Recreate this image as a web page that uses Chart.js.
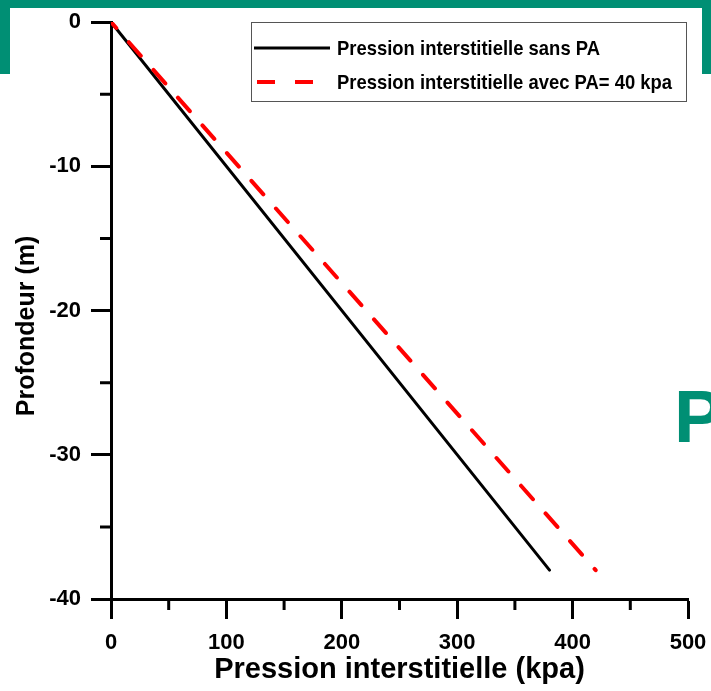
<!DOCTYPE html>
<html>
<head>
<meta charset="utf-8">
<script src="https://cdn.jsdelivr.net/npm/chart.js@4"></script>
<style>
  html, body { margin: 0; padding: 0; background: #fff; }
  #wrap { width: 711px; height: 691px; position: relative; }
</style>
</head>
<body>
<div id="wrap"><canvas id="c" width="711" height="691"></canvas></div>
<script>
// ---- data ----
const seriesNames = ["Pression interstitielle sans PA", "Pression interstitielle avec PA= 40 kpa"];
const depthSans = [0, -38];
const pressureSans = [0, 380];
const depthAvec = [0, -38];
const pressureAvec = [0, 420];
const xMajorTicks = [0, 100, 200, 300, 400, 500];
const xMinorTicks = [50, 150, 250, 350, 450];
const yMajorTicks = [0, -10, -20, -30, -40];
const yMinorTicks = [-5, -15, -25, -35];
const xTitle = "Pression interstitielle (kpa)";
const yTitle = "Profondeur (m)";
const decoLetter = "P";

const GREEN = "#008f74";
const FONT = "'Liberation Sans', Arial, sans-serif";

const toPoints = (xs, ys) => xs.map((x, i) => ({ x: x, y: ys[i] }));

const decoPlugin = {
  id: 'deco',
  beforeDraw(chart) {
    const ctx = chart.ctx;
    ctx.save();
    ctx.fillStyle = '#fff';
    ctx.fillRect(0, 0, chart.width, chart.height);
    ctx.fillStyle = GREEN;
    ctx.fillRect(0, 0, 711, 8);
    ctx.fillRect(0, 0, 10, 74);
    ctx.fillRect(702, 0, 9, 74);
    ctx.font = "bold 74px " + FONT;
    ctx.textBaseline = 'alphabetic';
    ctx.textAlign = 'left';
    ctx.fillText(decoLetter, 674, 442);
    ctx.restore();
  },
  afterDraw(chart) {
    const ctx = chart.ctx;
    const xs = chart.scales.x, ys = chart.scales.y;
    const area = chart.chartArea;
    ctx.save();
    ctx.strokeStyle = '#000';
    ctx.lineWidth = 3;
    ctx.beginPath();
    xMinorTicks.forEach(v => {
      const px = xs.getPixelForValue(v);
      ctx.moveTo(px, area.bottom);
      ctx.lineTo(px, area.bottom + 11);
    });
    yMinorTicks.forEach(v => {
      const py = ys.getPixelForValue(v);
      ctx.moveTo(area.left, py);
      ctx.lineTo(area.left - 11, py);
    });
    ctx.stroke();

    // y axis title
    ctx.fillStyle = '#000';
    ctx.font = "bold 25px " + FONT;
    ctx.textAlign = 'center';
    ctx.textBaseline = 'middle';
    ctx.translate(27, 326);
    ctx.rotate(-Math.PI / 2);
    ctx.fillText(yTitle, 0, 0);
    ctx.setTransform(1, 0, 0, 1, 0, 0);

    // legend box
    const bx = 251, by = 22, bw = 435, bh = 79;
    ctx.lineWidth = 1;
    ctx.strokeStyle = '#555';
    ctx.strokeRect(bx + 0.5, by + 0.5, bw, bh);
    const ds = chart.data.datasets;
    ctx.strokeStyle = ds[0].borderColor;
    ctx.lineWidth = 3;
    ctx.setLineDash([]);
    ctx.beginPath();
    ctx.moveTo(254, 48); ctx.lineTo(330, 48);
    ctx.stroke();
    ctx.strokeStyle = ds[1].borderColor;
    ctx.lineWidth = 4;
    ctx.beginPath();
    ctx.moveTo(257, 82); ctx.lineTo(275, 82);
    ctx.moveTo(295, 82); ctx.lineTo(313, 82);
    ctx.stroke();
    ctx.fillStyle = '#000';
    ctx.font = "bold 21px 'Liberation Sans Narrow', 'Liberation Sans', Arial, sans-serif";
    ctx.textBaseline = 'middle';
    ctx.textAlign = 'left';
    ctx.fillText(ds[0].label, 337, 49, 263);
    ctx.fillText(ds[1].label, 337, 83, 335);
    ctx.restore();
  }
};

new Chart(document.getElementById('c'), {
  type: 'line',
  data: {
    datasets: [
      {
        label: seriesNames[0],
        data: toPoints(pressureSans, depthSans),
        borderColor: '#000000',
        borderWidth: 3,
        pointRadius: 0,
        fill: false,
        order: 1,
        borderCapStyle: 'round'
      },
      {
        label: seriesNames[1],
        data: toPoints(pressureAvec, depthAvec),
        borderColor: '#ff0000',
        borderWidth: 4,
        borderDash: [18, 19],
        borderDashOffset: 10,
        pointRadius: 0,
        fill: false,
        order: 0,
        borderCapStyle: 'round'
      }
    ]
  },
  options: {
    responsive: false,
    animation: false,
    devicePixelRatio: 1,
    layout: { padding: { top: 22, right: 23, left: 0, bottom: 0 } },
    plugins: { legend: { display: false }, tooltip: { enabled: false } },
    scales: {
      x: {
        type: 'linear',
        min: 0, max: 500,
        afterBuildTicks: s => { s.ticks = xMajorTicks.map(v => ({ value: v })); },
        afterFit: s => { s.height = 92; s.paddingLeft = 0; s.paddingRight = 0; },
        grid: { display: true, drawOnChartArea: false, drawTicks: true, tickLength: 20, tickWidth: 3, tickColor: '#000' },
        border: { display: true, width: 3, color: '#000' },
        ticks: { color: '#000', padding: 11, font: { family: FONT, size: 22, weight: 'bold' }, maxRotation: 0 },
        title: { display: true, text: xTitle, color: '#000', padding: { top: 0, bottom: 4 }, font: { family: FONT, size: 29, weight: 'bold' } }
      },
      y: {
        type: 'linear',
        min: -40, max: 0,
        afterBuildTicks: s => { s.ticks = yMajorTicks.map(v => ({ value: v })); },
        afterFit: s => { s.width = 111; s.paddingTop = 0; s.paddingBottom = 0; },
        grid: { display: true, drawOnChartArea: false, drawTicks: true, tickLength: 20, tickWidth: 3, tickColor: '#000' },
        border: { display: true, width: 3, color: '#000' },
        ticks: { color: '#000', padding: 10, font: { family: FONT, size: 22, weight: 'bold' } },
        title: { display: false, text: yTitle }
      }
    }
  },
  plugins: [decoPlugin]
});
</script>
</body>
</html>
